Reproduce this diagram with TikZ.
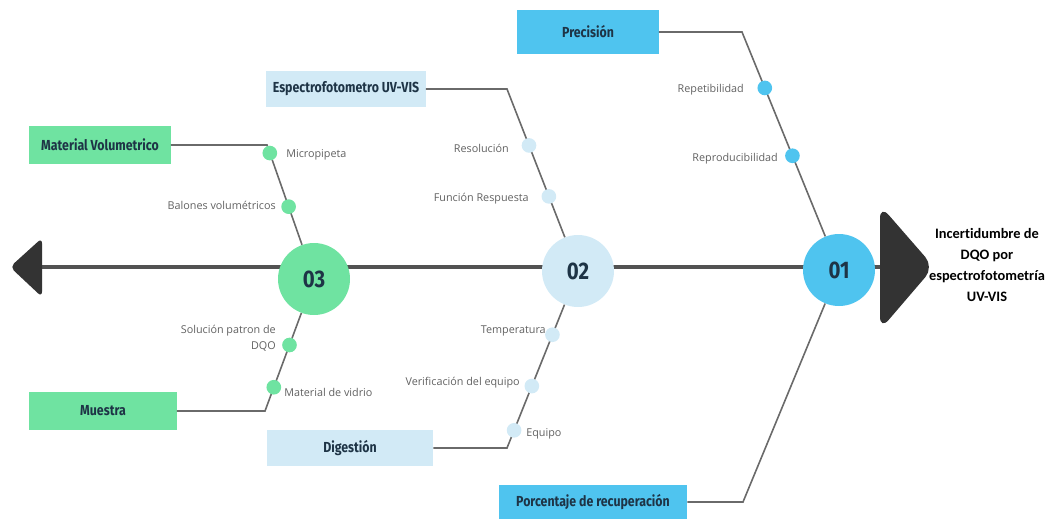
\documentclass[tikz,border=0pt]{standalone}
\usepackage{fontspec}
\usetikzlibrary{positioning, calc}

\newfontfamily\boxfont[FakeStretch=0.85]{Fira Sans}
\newfontfamily\lblfont{Open Sans}
\newfontfamily\ttlfont[Ligatures=NoCommon]{Carlito}

\definecolor{skyc}{HTML}{4FC4EF}
\definecolor{paleb}{HTML}{D2EAF6}
\definecolor{mint}{HTML}{6FE3A1}
\definecolor{headc}{HTML}{333333}
\definecolor{linec}{HTML}{6A6A6A}
\definecolor{boxtxt}{HTML}{1E3446}

\begin{document}
\begin{tikzpicture}[x=0.75pt, y=-0.75pt]
	\tikzset{cause/.style={inner sep=0pt, font=\boxfont\bfseries\fontsize{10.9}{12}\selectfont, text=boxtxt},
		num/.style={circle, minimum size=54pt, inner sep=0pt, font=\boxfont\bfseries\fontsize{18}{20}\selectfont, text=boxtxt},
		dot/.style={circle, minimum size=11pt, inner sep=0pt},
		lbl/.style={inner sep=0pt, font=\lblfont\fontsize{8.1}{12}\selectfont, text=black!62},
		bone/.style={draw=linec, line width=1.2pt},
		spine/.style={draw=headc!85, line width=2.3pt} }

	\useasboundingbox (0,0) rectangle (1054,519);

	% spine, tail and head
	\coordinate (tail) at (42,267);
	\coordinate (hd) at (880,267);
	\draw[spine] (tail) -- (hd);
	\fill[headc, rounded corners=4pt] (42,238) -- (10,267) -- (42,297) -- cycle;
	\fill[headc, rounded corners=10pt] (880,205) -- (934,267) -- (880,330) -- cycle;

	% main causes
	\node[cause, fill=skyc, minimum width=105.8pt, minimum height=32.3pt]	(prec)	at (588,32)		{Precisión};
	\node[cause, fill=paleb, minimum width=119.3pt, minimum height=26.3pt]	(espec)	at (346,89)		{Espectrofotometro UV-VIS};
	\node[cause, fill=mint, minimum width=105.8pt, minimum height=28.5pt]	(matv)	at (100,145)	{Material Volumetrico};
	\node[cause, fill=mint, minimum width=110.3pt, minimum height=27.8pt]	(muest)	at (103,411)	{Muestra};
	\node[cause, fill=paleb, minimum width=124.5pt, minimum height=26.3pt]	(diges)	at (350,448)	{Digestión};
	\node[cause, fill=skyc, minimum width=141pt, minimum height=25.5pt]		(porc)	at (593,502)	{Porcentaje de recuperación};

	\coordinate (k1) at (742,32);
	\coordinate (k1b) at (743,502);
	\coordinate (k2) at (507,89);
	\coordinate (k2b) at (507,448);
	\coordinate (k3) at (267,145);
	\coordinate (k3b) at (265,411);

	\node[num, fill=skyc]	(c1) at (839,270) {01};
	\node[num, fill=paleb]	(c2) at (578,271) {02};
	\node[num, fill=mint]	(c3) at (314,279) {03};

	\draw[bone]
		(prec.east) -- (k1) -- (c1)
		(porc.east) -- (k1b) -- (c1)
		(espec.east) -- (k2) -- (c2)
		(diges.east) -- (k2b) -- (c2)
		(matv.east) -- (k3) -- (c3)
		(muest.east) -- (k3b) -- (c3);

	% sub causes
	\node[dot, fill=skyc]	(d1a) at ($(k1)!0.235!(c1)$) {};
	\node[dot, fill=skyc]	(d1b) at ($(k1)!0.52!(c1)$) {};
	\node[dot, fill=paleb]	(d2a) at ($(k2)!0.31!(c2)$) {};
	\node[dot, fill=paleb]	(d2b) at ($(k2)!0.59!(c2)$) {};
	\node[dot, fill=paleb]	(d2c) at ($(k2b)!0.64!(c2)$) {};
	\node[dot, fill=paleb]	(d2d) at ($(k2b)!0.35!(c2)$) {};
	\node[dot, fill=paleb]	(d2e) at ($(k2b)!0.1!(c2)$) {};
	\node[dot, fill=mint]	(d3a) at ($(k3)!0.06!(c3)$) {};
	\node[dot, fill=mint]	(d3b) at ($(k3)!0.46!(c3)$) {};
	\node[dot, fill=mint]	(d3c) at ($(k3b)!0.5!(c3)$) {};
	\node[dot, fill=mint]	(d3d) at ($(k3b)!0.18!(c3)$) {};

	\node[lbl, anchor=east]	(l1a) at (744,90)	{Repetibilidad};
	\node[lbl, anchor=east]	(l1b) at (778,159)	{Reproducibilidad};
	\node[lbl, anchor=east]	(l2a) at (509,148)	{Resolución};
	\node[lbl, anchor=east]	(l2b) at (529,199)	{Función Respuesta};
	\node[lbl, anchor=east]	(l2c) at (546,331)	{Temperatura};
	\node[lbl, anchor=east]	(l2d) at (520,383)	{Verificación del equipo};
	\node[lbl, anchor=west]	(l2e) at (526,434)	{Equipo};
	\node[lbl, anchor=west]	(l3a) at (286,155)	{Micropipeta};
	\node[lbl, anchor=east]	(l3b) at (276,205)	{Balones volumétricos};
	\node[lbl, anchor=east, align=right] (l3c) at (276,338) {Solución patron de\\DQO};
	\node[lbl, anchor=west]	(l3d) at (284,392)	{Material de vidrio};

	% effect
	\node[inner sep=0pt, align=center, font=\ttlfont\bfseries\fontsize{10.8}{15.75}\selectfont] (eff) at (987,265)
		{Incertidumbre de\\DQO por\\espectrofotometría\\UV-VIS};
\end{tikzpicture}
\end{document}
